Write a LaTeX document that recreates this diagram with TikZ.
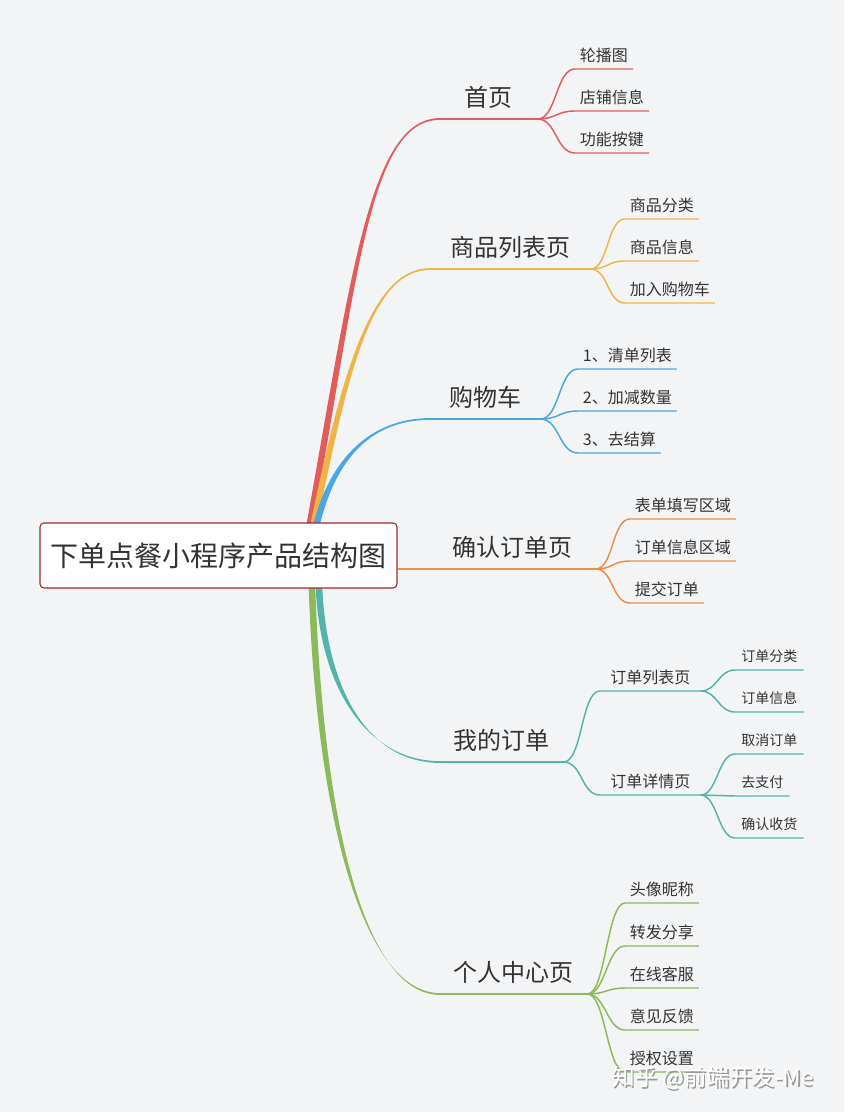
\documentclass[tikz,border=0pt]{standalone}
\usepackage{fontspec}
\setmainfont{Noto Sans CJK SC}
\usetikzlibrary{calc}
\definecolor{bgcol}{HTML}{F3F4F6}
\definecolor{ink}{HTML}{333333}
\definecolor{rootred}{HTML}{A0282A}
\definecolor{cred}{HTML}{E35C5C}
\definecolor{cyellow}{HTML}{F0B446}
\definecolor{cblue}{HTML}{4BA6E6}
\definecolor{corange}{HTML}{EE8C46}
\definecolor{cteal}{HTML}{52B4AA}
\definecolor{cgreen}{HTML}{8CB95A}
% tapered main branch: colour, start, end, first control offset, second control back-off
\newcommand{\limb}[5]{%
  \fill[#1] ($(#2)+(-3.3,0)$) .. controls ($(#2)+(#4)+(-3.3,0)$) and ($(#3)+(-#5,-0.9)$) .. ($(#3)+(0,-0.9)$)
    -- ($(#3)+(0,0.9)$) .. controls ($(#3)+(-#5,0.9)$) and ($(#2)+(#4)+(3.3,0)$) .. ($(#2)+(3.3,0)$) -- cycle;}

\begin{document}
\begin{tikzpicture}[
        x=0.75pt, y=-0.75pt,
        every node/.style={text=ink},
        root/.style={draw=rootred, line width=0.8pt, fill=white, rounded corners=3pt, minimum width=267.75pt, minimum height=48.75pt, font=\fontsize{21}{25}\selectfont},
        topic/.style={anchor=south west, inner ysep=7.5pt, font=\fontsize{18}{22}\selectfont},
        sub/.style={anchor=south west, minimum width=75pt, inner ysep=4.5pt, font=\fontsize{12}{14}\selectfont},
        leaf/.style={anchor=south west, inner xsep=3.5pt, inner ysep=4.5pt, font=\fontsize{12}{14}\selectfont},
        twig/.style={anchor=south west, inner xsep=4.5pt, inner ysep=5.5pt, font=\fontsize{10.5}{12}\selectfont},
        wmark/.style={font=\fontsize{17}{20}\selectfont},
        link/.style={line width=1.1pt},
        stem/.style={line width=1.3pt}
    ]
        \fill[bgcol] (0,0) rectangle (844,1112);
        \useasboundingbox (0,0) rectangle (844,1112);

        % Hubs
        \coordinate (hubA) at (310,523);
        \coordinate (hubB) at (314,523);
        \coordinate (hubC) at (317,523);
        \coordinate (hubD) at (319,588);
        \coordinate (hubE) at (312,588);

        % Topics
        \node[topic, minimum width=72.75pt] (home) at (440,119) {首页};
        \node[topic, minimum width=120pt] (goods) at (430,269) {商品列表页};
        \node[topic, minimum width=82.5pt] (cart) at (430,419) {购物车};
        \node[topic, minimum width=123.75pt] (confirm) at (430,569) {确认订单页};
        \node[topic, minimum width=92.25pt] (orders) at (440,762) {我的订单};
        \node[topic, minimum width=110.25pt] (me) at (440,994) {个人中心页};

        % Main branches
        \limb{cred}{hubA}{home.south west}{45,-250}{70}
        \limb{cyellow}{hubB}{goods.south west}{30,-145}{60}
        \limb{cblue}{hubC}{cart.south west}{16,-63}{60}
        \limb{cteal}{hubD}{orders.south west}{5,105}{70}
        \limb{cgreen}{hubE}{me.south west}{8,235}{75}

        % Root
        \node[root] (root) at (218.5,555.5) {下单点餐小程序产品结构图};

        % 首页
        \node[leaf] (lunbo) at (575,69) {轮播图};
        \node[leaf] (dianpu) at (575,111) {店铺信息};
        \node[leaf] (anjian) at (575,153) {功能按键};
        \draw[stem, cred] (home.south west) -- (home.south east);
        \draw[link, cred] (home.south east) .. controls +(19,0) and +(-19,0) .. (lunbo.south west) -- (lunbo.south east);
        \draw[link, cred] (home.south east) .. controls +(19,0) and +(-19,0) .. (dianpu.south west) -- (dianpu.south east);
        \draw[link, cred] (home.south east) .. controls +(19,0) and +(-19,0) .. (anjian.south west) -- (anjian.south east);

        % 商品列表页
        \node[leaf] (fenlei) at (625,219) {商品分类};
        \node[leaf] (xinxi) at (625,261) {商品信息};
        \node[leaf] (jiaru) at (625,303) {加入购物车};
        \draw[stem, cyellow] (goods.south west) -- (goods.south east);
        \draw[link, cyellow] (goods.south east) .. controls +(18,0) and +(-18,0) .. (fenlei.south west) -- (fenlei.south east);
        \draw[link, cyellow] (goods.south east) .. controls +(18,0) and +(-18,0) .. (xinxi.south west) -- (xinxi.south east);
        \draw[link, cyellow] (goods.south east) .. controls +(18,0) and +(-18,0) .. (jiaru.south west) -- (jiaru.south east);

        % 购物车
        \node[leaf] (qingdan) at (578,369) {1、清单列表};
        \node[leaf] (jiajian) at (578,411) {2、加减数量};
        \node[leaf] (jiesuan) at (578,453) {3、去结算};
        \draw[stem, cblue] (cart.south west) -- (cart.south east);
        \draw[link, cblue] (cart.south east) .. controls +(19,0) and +(-19,0) .. (qingdan.south west) -- (qingdan.south east);
        \draw[link, cblue] (cart.south east) .. controls +(19,0) and +(-19,0) .. (jiajian.south west) -- (jiajian.south east);
        \draw[link, cblue] (cart.south east) .. controls +(19,0) and +(-19,0) .. (jiesuan.south west) -- (jiesuan.south east);

        % 确认订单页
        \node[leaf] (tianxie) at (630,519) {表单填写区域};
        \node[leaf] (quyu) at (630,561) {订单信息区域};
        \node[leaf] (tijiao) at (630,603) {提交订单};
        \draw[stem, corange] (root.east |- confirm.south west) -- (confirm.south east);
        \draw[link, corange] (confirm.south east) .. controls +(18,0) and +(-18,0) .. (tianxie.south west) -- (tianxie.south east);
        \draw[link, corange] (confirm.south east) .. controls +(18,0) and +(-18,0) .. (quyu.south west) -- (quyu.south east);
        \draw[link, corange] (confirm.south east) .. controls +(18,0) and +(-18,0) .. (tijiao.south west) -- (tijiao.south east);

        % 我的订单
        \node[sub] (liebiao) at (600,691) {订单列表页};
        \node[sub] (xiangqing) at (600,795) {订单详情页};
        \draw[stem, cteal] (orders.south west) -- (orders.south east);
        \draw[link, cteal] (orders.south east) .. controls +(19,0) and +(-19,0) .. (liebiao.south west) -- (liebiao.south east);
        \draw[link, cteal] (orders.south east) .. controls +(19,0) and +(-19,0) .. (xiangqing.south west) -- (xiangqing.south east);
        \node[twig] (ddfenlei) at (735,670) {订单分类};
        \node[twig] (ddxinxi) at (735,712) {订单信息};
        \node[twig] (quxiao) at (735,754) {取消订单};
        \node[twig] (zhifu) at (735,796) {去支付};
        \node[twig] (shouhuo) at (735,838) {确认收货};
        \draw[link, cteal] (liebiao.south east) .. controls +(17,0) and +(-17,0) .. (ddfenlei.south west) -- (ddfenlei.south east);
        \draw[link, cteal] (liebiao.south east) .. controls +(17,0) and +(-17,0) .. (ddxinxi.south west) -- (ddxinxi.south east);
        \draw[link, cteal] (xiangqing.south east) .. controls +(17,0) and +(-17,0) .. (quxiao.south west) -- (quxiao.south east);
        \draw[link, cteal] (xiangqing.south east) .. controls +(17,0) and +(-17,0) .. (zhifu.south west) -- (zhifu.south east);
        \draw[link, cteal] (xiangqing.south east) .. controls +(17,0) and +(-17,0) .. (shouhuo.south west) -- (shouhuo.south east);

        % 个人中心页
        \node[leaf] (touxiang) at (625,903) {头像昵称};
        \node[leaf] (zhuanfa) at (625,946) {转发分享};
        \node[leaf] (kefu) at (625,988) {在线客服};
        \node[leaf] (fankui) at (625,1030) {意见反馈};
        \node[leaf] (shouquan) at (625,1072) {授权设置};
        \draw[stem, cgreen] (me.south west) -- (me.south east);
        \draw[link, cgreen] (me.south east) .. controls +(18,0) and +(-18,0) .. (touxiang.south west) -- (touxiang.south east);
        \draw[link, cgreen] (me.south east) .. controls +(18,0) and +(-18,0) .. (zhuanfa.south west) -- (zhuanfa.south east);
        \draw[link, cgreen] (me.south east) .. controls +(18,0) and +(-18,0) .. (kefu.south west) -- (kefu.south east);
        \draw[link, cgreen] (me.south east) .. controls +(18,0) and +(-18,0) .. (fankui.south west) -- (fankui.south east);
        \draw[link, cgreen] (me.south east) .. controls +(18,0) and +(-18,0) .. (shouquan.south west) -- (shouquan.south east);

        % Watermark
        \node[wmark, text=black!40] (markshade) at (714.5,1079.5) {知乎 @前端开发-Me};
        \node[wmark, text=white] (wm) at (713,1078) {知乎 @前端开发-Me};
    \end{tikzpicture}
\end{document}
